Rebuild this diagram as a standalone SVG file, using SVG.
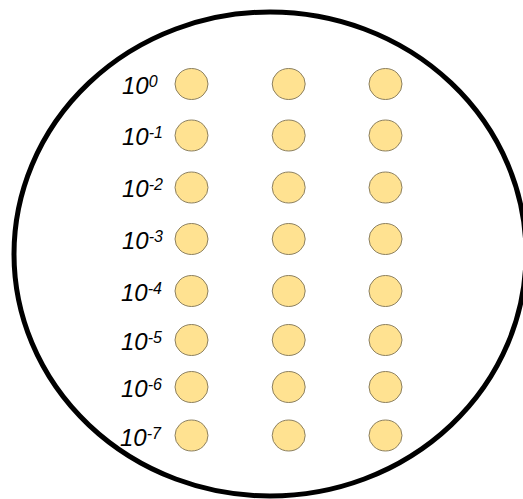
<svg xmlns="http://www.w3.org/2000/svg" width="523" height="499" viewBox="0 0 523 499">
<style>
.dot{fill:#ffe291;stroke:#8c8060;stroke-width:1}
.lbl{font-family:"Liberation Sans",Arial,sans-serif;font-style:italic;font-size:24px;fill:#000}
.sup{font-size:16px}
</style>
<rect width="523" height="499" fill="#fff"/>
<ellipse id="plate" cx="270" cy="254" rx="256" ry="242" fill="none" stroke="#000" stroke-width="5"/>
<g id="connectors"></g>
<g id="row0"><text class="lbl" x="122" y="93.5">10<tspan class="sup" dy="-7">0</tspan></text><ellipse class="dot" cx="191.5" cy="84" rx="16.5" ry="15.5"/><ellipse class="dot" cx="288.7" cy="84" rx="16.5" ry="15.5"/><ellipse class="dot" cx="385.5" cy="84" rx="16.5" ry="15.5"/></g>
<g id="row1"><text class="lbl" x="122" y="145">10<tspan class="sup" dy="-7">-1</tspan></text><ellipse class="dot" cx="191.5" cy="135.5" rx="16.5" ry="15.5"/><ellipse class="dot" cx="288.7" cy="135.5" rx="16.5" ry="15.5"/><ellipse class="dot" cx="385.5" cy="135.5" rx="16.5" ry="15.5"/></g>
<g id="row2"><text class="lbl" x="122" y="197">10<tspan class="sup" dy="-7">-2</tspan></text><ellipse class="dot" cx="191.5" cy="187.5" rx="16.5" ry="15.5"/><ellipse class="dot" cx="288.7" cy="187.5" rx="16.5" ry="15.5"/><ellipse class="dot" cx="385.5" cy="187.5" rx="16.5" ry="15.5"/></g>
<g id="row3"><text class="lbl" x="122" y="248.5">10<tspan class="sup" dy="-7">-3</tspan></text><ellipse class="dot" cx="191.5" cy="239" rx="16.5" ry="15.5"/><ellipse class="dot" cx="288.7" cy="239" rx="16.5" ry="15.5"/><ellipse class="dot" cx="385.5" cy="239" rx="16.5" ry="15.5"/></g>
<g id="row4"><text class="lbl" x="121" y="300.5">10<tspan class="sup" dy="-7">-4</tspan></text><ellipse class="dot" cx="191.5" cy="291" rx="16.5" ry="15.5"/><ellipse class="dot" cx="288.7" cy="291" rx="16.5" ry="15.5"/><ellipse class="dot" cx="385.5" cy="291" rx="16.5" ry="15.5"/></g>
<g id="row5"><text class="lbl" x="121" y="349.5">10<tspan class="sup" dy="-7">-5</tspan></text><ellipse class="dot" cx="191.5" cy="340" rx="16.5" ry="15.5"/><ellipse class="dot" cx="288.7" cy="340" rx="16.5" ry="15.5"/><ellipse class="dot" cx="385.5" cy="340" rx="16.5" ry="15.5"/></g>
<g id="row6"><text class="lbl" x="121" y="396.5">10<tspan class="sup" dy="-7">-6</tspan></text><ellipse class="dot" cx="191.5" cy="387" rx="16.5" ry="15.5"/><ellipse class="dot" cx="288.7" cy="387" rx="16.5" ry="15.5"/><ellipse class="dot" cx="385.5" cy="387" rx="16.5" ry="15.5"/></g>
<g id="row7"><text class="lbl" x="120" y="445.5">10<tspan class="sup" dy="-7">-7</tspan></text><ellipse class="dot" cx="191.5" cy="435.5" rx="16.5" ry="15.5"/><ellipse class="dot" cx="288.7" cy="435.5" rx="16.5" ry="15.5"/><ellipse class="dot" cx="385.5" cy="435.5" rx="16.5" ry="15.5"/></g>
</svg>
